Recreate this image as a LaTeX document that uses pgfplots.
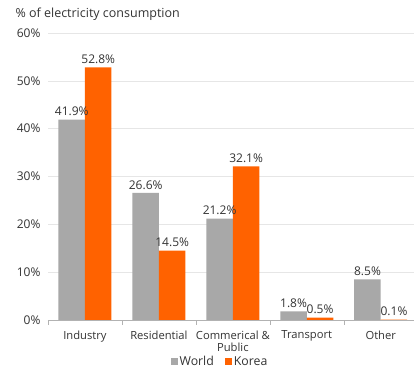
\documentclass[border=0pt]{standalone}
\usepackage{pgfplots}
\pgfplotsset{compat=1.18}
\usepackage{fontspec}
\setmainfont{Open Sans}
\definecolor{worldgray}{HTML}{A8A8A8}
\definecolor{ingorange}{HTML}{FF6200}
\definecolor{txt}{HTML}{333333}
\definecolor{gridc}{HTML}{E6E6E6}
\begin{document}
\begin{tikzpicture}
\begin{axis}[
  scale only axis,
  width=366pt, height=287pt,
  ybar=0pt, bar width=26.5pt,
  xmin=-0.5, xmax=4.45,
  ymin=0, ymax=60,
  ytick={0,10,...,60},
  yticklabel={\pgfmathprintnumber{\tick}\%},
  /pgf/number format/assume math mode=true,
  xtick={0,1,2,3,4},
  xticklabels={Industry,Residential,{Commerical \&\\Public},Transport,Other},
  xticklabel style={align=center, font=\fontsize{11.2}{12.5}\selectfont, text=txt, yshift=-7pt},
  yticklabel style={font=\fontsize{12}{14}\selectfont, text=txt, xshift=-4pt},
  minor xtick={-0.5,0.5,1.5,2.5,3.5},
  major tick length=0pt,
  minor tick length=5pt,
  minor tick style={draw=gray!60},
  tick align=outside,
  axis x line*=bottom,
  axis y line*=left,
  y axis line style={draw=none},
  x axis line style={draw=gray!60, -},
  ymajorgrids, grid style={gridc},
  nodes near coords={\pgfmathprintnumber[fixed,fixed zerofill,precision=1]{\pgfplotspointmeta}\%},
  nodes near coords style={font=\fontsize{12}{14}\selectfont, text=txt, /pgf/number format/assume math mode=true},
  legend style={at={(0.47,-0.146)}, anchor=center, draw=none, fill=none, legend columns=2, font=\fontsize{12.3}{14}\selectfont, text=txt, inner sep=0pt, /tikz/every even column/.append style={column sep=9pt}},
  legend image code/.code={\fill (0pt,-3.5pt) rectangle (7pt,3.5pt);},
  clip=false,
]
\addplot[fill=worldgray, draw=none] coordinates {(0,41.9) (1,26.6) (2,21.2) (3,1.8) (4,8.5)};
\addplot[fill=ingorange, draw=none] coordinates {(0,52.8) (1,14.5) (2,32.1) (3,0.5) (4,0.1)};
\legend{World,Korea}
\end{axis}
\node[anchor=base west, font=\fontsize{12.5}{14}\selectfont, text=txt] at (-36pt,302pt) {\% of electricity consumption};
\path[use as bounding box] (-48pt,-47pt) rectangle (367pt,320pt);
\end{tikzpicture}
\end{document}
